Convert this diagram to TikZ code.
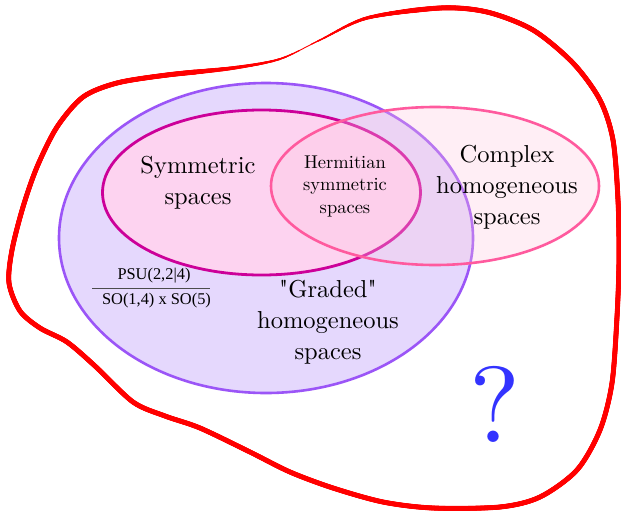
\documentclass[tikz,border=0pt]{standalone}
\usepackage{fontspec}
\setmainfont{lmroman10-regular.otf}
\newfontfamily\plainlm{lmroman10-regular.otf}
\newfontfamily\timesfont{Liberation Serif}
\definecolor{lav}{HTML}{E5D8FD}
\definecolor{lavline}{HTML}{9B55F7}
\definecolor{sympink}{HTML}{FDD3F0}
\definecolor{symline}{HTML}{CC0099}
\definecolor{cpxline}{HTML}{FF5A9E}
\definecolor{cpxfill}{HTML}{FFC8E1}
\definecolor{qblue}{HTML}{3333FF}
\tikzset{
  bigtxt/.style={align=center, font=\fontsize{24.5}{31}\selectfont, inner sep=0pt},
  midtxt/.style={align=center, font=\fontsize{18.5}{22.5}\selectfont, inner sep=0pt},
  fractxt/.style={font=\timesfont\fontsize{16.4}{18}\selectfont, inner sep=0pt},
  blobline/.style={red, line join=round},
}
\newcommand\blobpath{plot[smooth cycle, tension=0.5] coordinates {
 (440,8) (487,12) (533,30) (573,63) (600,100) (613,140) (618,200) (619,260)
 (617,317) (612,383) (600,430) (577,470) (540,497) (500,507) (433,508) (383,502)
 (333,488) (290,472) (250,452) (200,428) (165,416) (133,402) (95,366) (67,342)
 (40,328) (20,311) (9,283) (12,250) (23,207) (37,167) (57,127) (83,97) (117,83)
 (167,75) (233,68) (280,59) (320,40) (367,18)}}
\begin{document}
\begin{tikzpicture}[x=1pt,y=-1pt]
\useasboundingbox (0,0) rectangle (621,512);
\fill[white] (0,0) rectangle (621,512);
% graded homogeneous spaces
\draw[fill=lav, draw=lavline, line width=2.6pt] (266,238) ellipse [x radius=207, y radius=155];
% symmetric spaces
\draw[fill=sympink, draw=symline, line width=2.8pt] (261.5,192.5) ellipse [x radius=159, y radius=82.5];
% complex homogeneous spaces
\fill[cpxfill, fill opacity=0.3] (435,186) ellipse [x radius=164, y radius=79];
\draw[cpxline, line width=2.6pt] (435,186) ellipse [x radius=164, y radius=79];
% texts
\node[bigtxt] (sym) at (198,183) {Symmetric\\spaces};
\node[midtxt] (herm) at (345,186) {Hermitian\\symmetric\\spaces};
\node[bigtxt] (cpx) at (507,187) {Complex\\homogeneous\\spaces};
\node[bigtxt] (grd) at (328,322) {{\plainlm"}Graded{\plainlm"}\\homogeneous\\spaces};
\node[fractxt] (num) at (154,276) {PSU(2,2|4)};
\node[fractxt] (den) at (156.5,301) {SO(1,4) x SO(5)};
\draw[black!70, line width=0.8pt] (92,288.5) -- (210,288.5);
\node[text=qblue, font=\fontsize{108}{108}\selectfont, inner sep=0pt] (q) at (495,404) {?};
% outer blob, thinning near the top left
\draw[blobline, line width=0.9pt] \blobpath;
\foreach \i in {1,...,16} {
  \pgfmathsetmacro\rr{7*\i}
  \pgfmathsetmacro\ww{0.9+0.25*\i}
  \begin{scope}[even odd rule]
    \clip (-10,-10) rectangle (640,530) (305,47) circle[radius=\rr];
    \draw[blobline, line width=\ww pt] \blobpath;
  \end{scope}
}
\end{tikzpicture}
\end{document}
